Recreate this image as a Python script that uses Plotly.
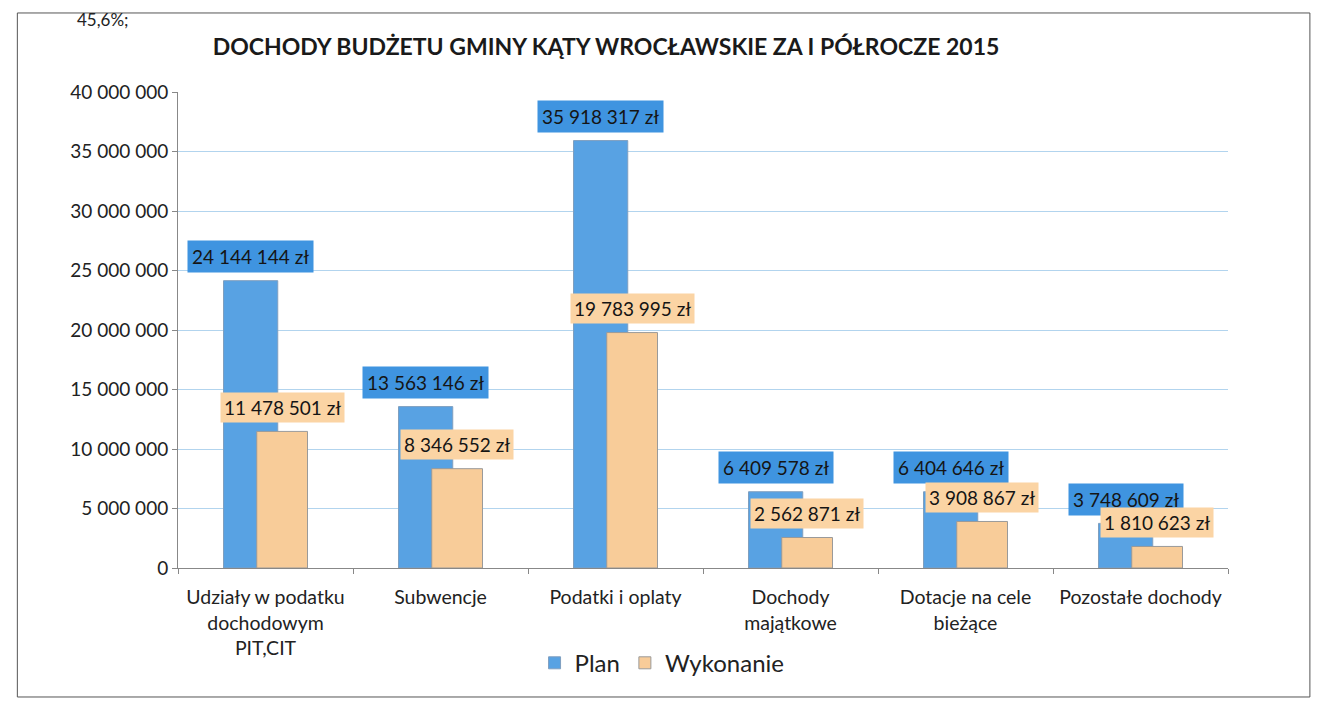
import plotly.graph_objects as go

categories = ["Udziały w podatku<br>dochodowym<br>PIT,CIT", "Subwencje", "Podatki i oplaty",
              "Dochody<br>majątkowe", "Dotacje na cele<br>bieżące", "Pozostałe dochody"]
plan = [24144144, 13563146, 35918317, 6409578, 6404646, 3748609]
wykonanie = [11478501, 8346552, 19783995, 2562871, 3908867, 1810623]
plan_labels = ["24 144 144 zł", "13 563 146 zł", "35 918 317 zł", "6 409 578 zł", "6 404 646 zł", "3 748 609 zł"]
wyk_labels = ["11 478 501 zł", "8 346 552 zł", "19 783 995 zł", "2 562 871 zł", "3 908 867 zł", "1 810 623 zł"]
y_ticks = [0, 5000000, 10000000, 15000000, 20000000, 25000000, 30000000, 35000000, 40000000]
y_ticktext = ["0", "5 000 000", "10 000 000", "15 000 000", "20 000 000", "25 000 000",
              "30 000 000", "35 000 000", "40 000 000"]

FONT = "Lato, 'Open Sans', sans-serif"
PLAN_OFF, PLAN_W = -0.24, 0.31
WYK_OFF, WYK_W = -0.05, 0.29

fig = go.Figure()
fig.add_trace(go.Bar(x=categories, y=plan, name="Plan", offset=PLAN_OFF, width=PLAN_W,
                     marker=dict(color="#58a2e3", line=dict(color="#7f9fbf", width=1))))
fig.add_trace(go.Bar(x=categories, y=wykonanie, name="Wykonanie", offset=WYK_OFF, width=WYK_W,
                     marker=dict(color="#f8cc99", line=dict(color="#9a9a9a", width=1))))

annotations = []
for i, p in enumerate(plan):
    annotations.append(dict(x=i + PLAN_OFF + PLAN_W / 2, y=p, xref="x", yref="y",
                            text=plan_labels[i], showarrow=False, yshift=24,
                            bgcolor="#3f94e0", borderpad=4,
                            font=dict(family=FONT, size=19, color="#151515")))
for i, w in enumerate(wykonanie):
    annotations.append(dict(x=i + WYK_OFF + WYK_W / 2, y=w, xref="x", yref="y",
                            text=wyk_labels[i], showarrow=False, yshift=24,
                            bgcolor="#fbd4a4", borderpad=3,
                            font=dict(family=FONT, size=19, color="#151515")))
annotations.append(dict(x=-0.098, y=1.178, xref="paper", yref="paper", xanchor="left", yanchor="top",
                        text="45,6%;", showarrow=False,
                        font=dict(family=FONT, size=17, color="#222")))

fig.update_layout(
    width=1319, height=703,
    margin=dict(l=170, r=99, t=84, b=143),
    paper_bgcolor="white", plot_bgcolor="white",
    barmode="overlay",
    title=dict(text="<b>DOCHODY BUDŻETU GMINY KĄTY WROCŁAWSKIE ZA I PÓŁROCZE 2015</b>",
               x=(606 - 8) / 1319, xanchor="center", y=1 - (47 - 8) / 703, yanchor="middle",
               font=dict(family=FONT, size=23, color="#1a1a1a")),
    font=dict(family=FONT, size=16, color="#222"),
    legend=dict(orientation="h", x=0.461, xanchor="center", y=-0.2, yanchor="middle",
                bgcolor="rgba(0,0,0,0)",
                font=dict(family=FONT, size=24, color="#222"), itemwidth=30),
    annotations=annotations,
    shapes=[dict(type="rect", xref="paper", yref="paper", x0=-0.153, x1=1.078, y0=-0.271, y1=1.166,
                 line=dict(color="#555", width=1))],
)
fig.update_xaxes(showline=True, linecolor="#888", ticks="outside", tickson="boundaries",
                 ticklen=5, tickcolor="#888", tickfont=dict(family=FONT, size=19.5, color="#222"),
                 range=[-0.5, 5.5], automargin=False, ticklabelstandoff=12)
fig.update_yaxes(range=[0, 40000000], tickvals=y_ticks, ticktext=y_ticktext,
                 showgrid=True, gridcolor="#b2d4ee", gridwidth=1,
                 showline=True, linecolor="#888", ticks="outside", ticklen=5, tickcolor="#888",
                 tickfont=dict(family=FONT, size=19, color="#222"), zeroline=False, automargin=False)

fig.write_html("out.html")
